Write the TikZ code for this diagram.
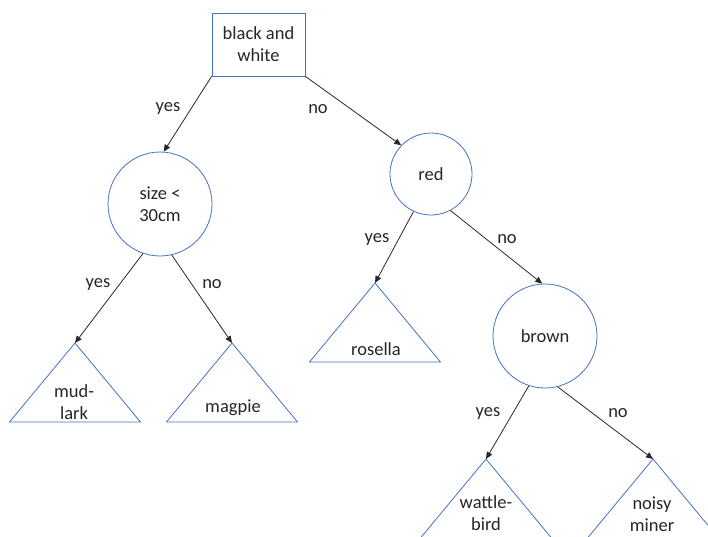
\documentclass[tikz,border=0pt]{standalone}
\usepackage{fontspec}
\setmainfont{Carlito}
\usetikzlibrary{arrows.meta}
\definecolor{shapeblue}{RGB}{68,114,196}
\definecolor{arrowgray}{RGB}{40,40,40}
\begin{document}
\begin{tikzpicture}[x=1pt,y=-1pt,
  every node/.style={font=\fontsize{18.5}{22}\selectfont, text=black!85},
  outline/.style={draw=shapeblue, line width=0.8pt, fill=white},
  dec/.style={outline, circle, minimum size=104pt, inner sep=0pt, align=center},
  leafshape/.style={outline, line join=miter},
  conn/.style={draw=arrowgray, line width=0.8pt, -{Triangle[length=7pt,width=6pt]}},
  lbl/.style={inner sep=0pt}]
\clip (0,0) rectangle (708,536);
\useasboundingbox (0,0) rectangle (708,536);
% root box
\node[outline, minimum width=93pt, minimum height=63pt, align=center, inner sep=0pt] (root) at (258.5,44.5) {black and\\white};
% decision circles
\node[dec] (size) at (160,204) {size <\\30cm};
\node[dec, minimum size=82pt] (red) at (431,174) {red};
\node[dec] (brown) at (545,336) {brown};
% leaves (apex coordinates)
\coordinate (mud) at (75,343);
\coordinate (mag) at (232,343);
\coordinate (ros) at (375,283);
\coordinate (wat) at (486,459);
\coordinate (noi) at (653,459);
\foreach \a in {mud,mag,ros,wat,noi}{
  \draw[leafshape] (\a) -- ++(65.5,79) -- ++(-131,0) -- cycle;
}
\node[align=center] (mudt) at (74,402) {mud-\\lark};
\node (magt) at (233,408) {magpie};
\node (rost) at (376,349) {rosella};
\node[align=center] (watt) at (486,513) {wattle-\\bird};
\node[align=center] (noit) at (652,514) {noisy\\miner};
% connectors
\draw[conn] (root.south west) -- (size.86);
\draw[conn] (root.south east) -- (red.136);
\draw[conn] (size.251) -- (mud);
\draw[conn] (size.283) -- (mag);
\draw[conn] (red.245) -- (ros);
\draw[conn] (red.298) -- (brown.93);
\draw[conn] (brown.252) -- (wat);
\draw[conn] (brown.284) -- (noi);
% edge labels
\node[lbl] (l1) at (168,109) {yes};
\node[lbl] (l2) at (318,109) {no};
\node[lbl] (l3) at (98,284) {yes};
\node[lbl] (l4) at (212,284) {no};
\node[lbl] (l5) at (377,239) {yes};
\node[lbl] (l6) at (507,239) {no};
\node[lbl] (l7) at (488,413) {yes};
\node[lbl] (l8) at (618,413) {no};
\end{tikzpicture}
\end{document}
